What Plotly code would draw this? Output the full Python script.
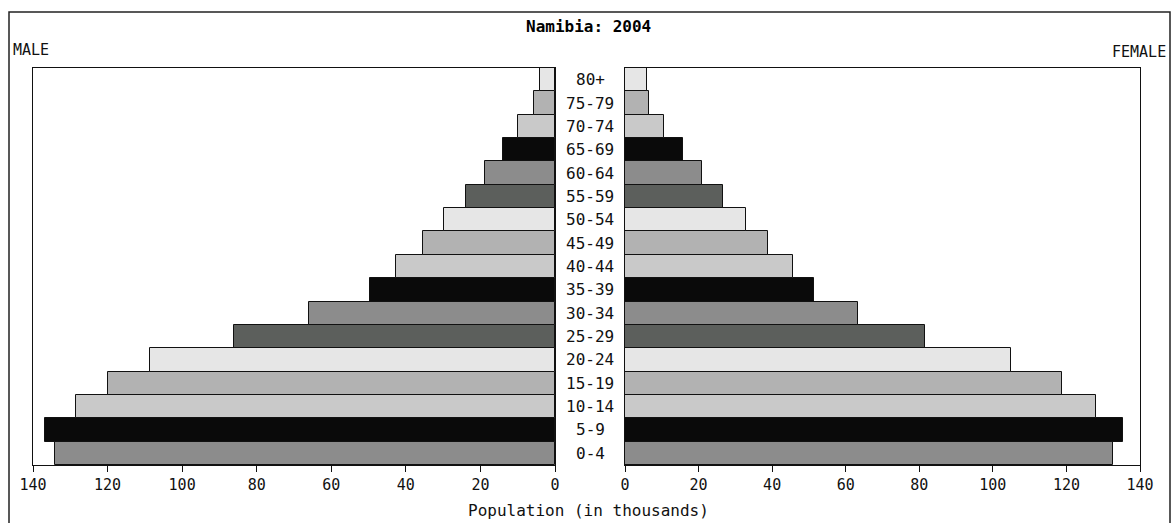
import plotly.graph_objects as go

ages = ["0-4", "5-9", "10-14", "15-19", "20-24", "25-29", "30-34", "35-39",
        "40-44", "45-49", "50-54", "55-59", "60-64", "65-69", "70-74", "75-79", "80+"]
male = [134, 136.7, 128.4, 120, 108.6, 86, 66, 49.6, 42.6, 35.4, 29.8, 24, 18.8, 14, 10, 5.6, 4]
female = [132.6, 135.3, 128, 118.7, 105, 81.5, 63.3, 51.4, 45.7, 38.9, 32.9, 26.6, 21, 15.8, 10.6, 6.5, 6]
cycle = ["#8c8c8c", "#0a0a0a", "#c9c9c9", "#b2b2b2", "#e6e6e6", "#5c5f5c"]
colors = [cycle[i % len(cycle)] for i in range(len(ages))]
ticks = [0, 20, 40, 60, 80, 100, 120, 140]

W, H = 1173, 523
FONT = "DejaVu Sans Mono"

fig = go.Figure()
fig.add_trace(go.Bar(y=ages, x=male, orientation="h", xaxis="x", yaxis="y",
                     marker=dict(color=colors, line=dict(color="#111", width=1)),
                     showlegend=False))
fig.add_trace(go.Bar(y=ages, x=female, orientation="h", xaxis="x2", yaxis="y2",
                     marker=dict(color=colors, line=dict(color="#111", width=1)),
                     showlegend=False))

ydom = [1 - 465 / H, 1 - 68 / H]
axcommon = dict(showline=True, linecolor="#111", linewidth=1, mirror=True,
                ticks="outside", ticklen=6, tickcolor="#111",
                tickvals=ticks, ticktext=[str(t) for t in ticks],
                showgrid=False, zeroline=False, automargin=False,
                tickfont=dict(family=FONT, size=15, color="#111"))
ycommon = dict(domain=ydom, showticklabels=False, ticks="", showgrid=False,
               showline=True, linecolor="#111", linewidth=1, mirror=True,
               automargin=False, categoryorder="array", categoryarray=ages)
fig.update_layout(
    width=W, height=H, margin=dict(l=0, r=0, t=0, b=0, pad=0, autoexpand=False),
    paper_bgcolor="white", plot_bgcolor="white", bargap=0,
    xaxis=dict(domain=[33 / W, 555 / W], range=[140, 0], anchor="y", **axcommon),
    xaxis2=dict(domain=[625 / W, 1140 / W], range=[0, 140], anchor="y2", **axcommon),
    yaxis=dict(anchor="x", **ycommon),
    yaxis2=dict(anchor="x2", **ycommon),
    font=dict(family=FONT, color="#111"),
)

for a in ages:
    fig.add_annotation(x=590 / W, xref="paper", y=a, yref="y", text=a, showarrow=False,
                       xanchor="center", yanchor="middle", font=dict(family=FONT, size=16, color="#111"))

fig.add_annotation(x=588 / W, y=1 - 27 / H, xref="paper", yref="paper", text="<b>Namibia: 2004</b>",
                   showarrow=False, xanchor="center", yanchor="middle", font=dict(family=FONT, size=16, color="#000"))
fig.add_annotation(x=11 / W, y=1 - 50 / H, xref="paper", yref="paper", text="MALE",
                   showarrow=False, xanchor="left", yanchor="middle", font=dict(family=FONT, size=15, color="#111"))
fig.add_annotation(x=1168 / W, y=1 - 52 / H, xref="paper", yref="paper", text="FEMALE",
                   showarrow=False, xanchor="right", yanchor="middle", font=dict(family=FONT, size=15, color="#111"))
fig.add_annotation(x=588 / W, y=1 - 510 / H, xref="paper", yref="paper", text="Population (in thousands)",
                   showarrow=False, xanchor="center", yanchor="middle", font=dict(family=FONT, size=16, color="#111"))

fig.add_shape(type="rect", xref="paper", yref="paper", x0=9 / W, x1=1170 / W, y0=-0.01, y1=1 - 12 / H,
              line=dict(color="#222", width=1.5), fillcolor="rgba(0,0,0,0)", layer="below")

fig.write_html("out.html", config={"displayModeBar": False},
               post_script="document.body.style.margin='0';document.body.style.overflow='hidden';")
